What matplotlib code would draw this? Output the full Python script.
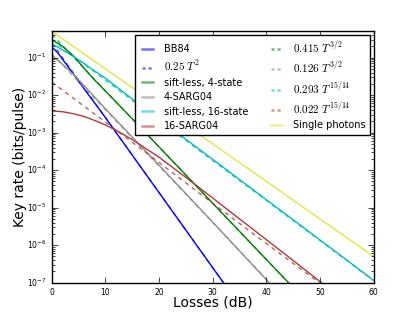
import matplotlib
matplotlib.use("Agg")
import matplotlib.pyplot as plt

plt.style.use('classic')

# losses (dB) and key rates
L_bb84 = [0, 1, 2, 3, 4, 5, 6, 8, 10, 15, 20, 25, 30, 33]
bb84 = [0.19, 0.14, 0.09, 0.058, 0.037, 0.023, 0.0148, 6.1e-3, 2.5e-3, 2.5e-4, 2.5e-5, 2.5e-6, 2.5e-7, 6.3e-8]
L_bb84_fit = [0, 10, 20, 30, 33]
bb84_fit = [0.25, 2.5e-3, 2.5e-5, 2.5e-7, 6.3e-8]

L_sl4 = [0, 2, 4, 6, 8, 10, 15, 20, 25, 30, 35, 40, 45, 46]
sl4 = [0.30, 0.20, 0.112, 0.052, 0.025, 0.0128, 2.33e-3, 4.15e-4, 7.4e-5, 1.31e-5, 2.33e-6, 4.15e-7, 7.4e-8, 5.2e-8]

L_sarg4 = [0, 2, 4, 6, 8, 10, 15, 20, 25, 30, 35, 40, 42]
sarg4 = [0.115, 0.066, 0.036, 0.018, 0.0088, 4.3e-3, 7.6e-4, 1.35e-4, 2.35e-5, 4.1e-6, 7.0e-7, 1.2e-7, 6e-8]

L_sl16 = [0, 2, 4, 6, 8, 10, 15, 20, 25, 30, 35, 40, 45, 50, 55, 60]
sl16 = [0.235, 0.16, 0.108, 0.07, 0.044, 0.028, 7.9e-3, 2.25e-3, 6.6e-4, 1.93e-4, 5.6e-5, 1.63e-5, 4.75e-6, 1.38e-6, 4.0e-7, 1.16e-7]

L_sarg16 = [0, 2, 4, 6, 8, 10, 12, 15, 20, 25, 30, 35, 40, 45, 50, 52]
sarg16 = [3.8e-3, 3.6e-3, 3.2e-3, 2.7e-3, 2.1e-3, 1.6e-3, 1.15e-3, 6.5e-4, 2.2e-4, 6.4e-5, 1.8e-5, 5.0e-6, 1.4e-6, 3.9e-7, 1.07e-7, 6e-8]

L_fit_g = [0, 10, 20, 30, 40, 46]
fit_g = [0.415, 1.3e-2, 4.15e-4, 1.3e-5, 4.15e-7, 5.2e-8]
L_fit_gray = [0, 10, 20, 30, 40, 42]
fit_gray = [0.126, 4.0e-3, 1.26e-4, 4.0e-6, 1.26e-7, 6.3e-8]
L_fit_c = [0, 10, 20, 30, 40, 50, 60]
fit_c = [0.293, 2.5e-2, 2.1e-3, 1.8e-4, 1.54e-5, 1.32e-6, 1.13e-7]
L_fit_r = [0, 10, 20, 30, 40, 50, 52]
fit_r = [0.022, 1.9e-3, 1.6e-4, 1.3e-5, 1.1e-6, 9.7e-8, 6e-8]

L_single = [0, 60]
single = [0.5, 5e-7]

fig = plt.figure(figsize=(4.15, 3.14), dpi=100, facecolor='white')
ax = fig.add_subplot(111)

d = (3, 3)
ax.plot(L_bb84, bb84, color='b', lw=1, label='BB84')
ax.plot(L_bb84_fit, bb84_fit, color='b', lw=1, dashes=d, alpha=0.6, label=r'$0.25\ T^{2}$')
ax.plot(L_sl4, sl4, color='g', lw=1, label='sift-less, 4-state')
ax.plot(L_sarg4, sarg4, color='0.55', lw=1, label='4-SARG04')
ax.plot(L_sl16, sl16, color='c', lw=1, label='sift-less, 16-state')
ax.plot(L_sarg16, sarg16, color='#b03a3a', lw=1, label='16-SARG04')
ax.plot(L_fit_g, fit_g, color='g', lw=1, dashes=d, alpha=0.7, label=r'$0.415\ T^{3/2}$')
ax.plot(L_fit_gray, fit_gray, color='0.55', lw=1, dashes=d, alpha=0.7, label=r'$0.126\ T^{3/2}$')
ax.plot(L_fit_c, fit_c, color='c', lw=1, dashes=d, alpha=0.8, label=r'$0.293\ T^{15/14}$')
ax.plot(L_fit_r, fit_r, color='#b03a3a', lw=1, dashes=d, alpha=0.8, label=r'$0.022\ T^{15/14}$')
ax.plot(L_single, single, color='#e6e640', lw=1, label='Single photons')

ax.set_yscale('log')
ax.set_xlim(0, 60)
ax.set_ylim(1e-7, 0.5)
ax.set_xlabel('Losses (dB)', fontsize=10, labelpad=-1)
ax.set_ylabel('Key rate (bits/pulse)', fontsize=10, labelpad=0)
ax.tick_params(labelsize=5.5)

leg = ax.legend(loc='upper right', ncol=2, fontsize=7, handlelength=1.8,
                labelspacing=0.45, columnspacing=2.0, borderaxespad=0.4)
for ln in leg.get_lines():
    ln.set_linewidth(1.8)
    ln.set_alpha(0.55)
    if ln.get_linestyle() != '-':
        ln.set_linestyle((0, (2.2, 2.2)))
for t in leg.get_texts():
    if t.get_text().startswith('$'):
        t.set_fontsize(8)

fig.savefig('out.png', dpi=100, facecolor='white')
